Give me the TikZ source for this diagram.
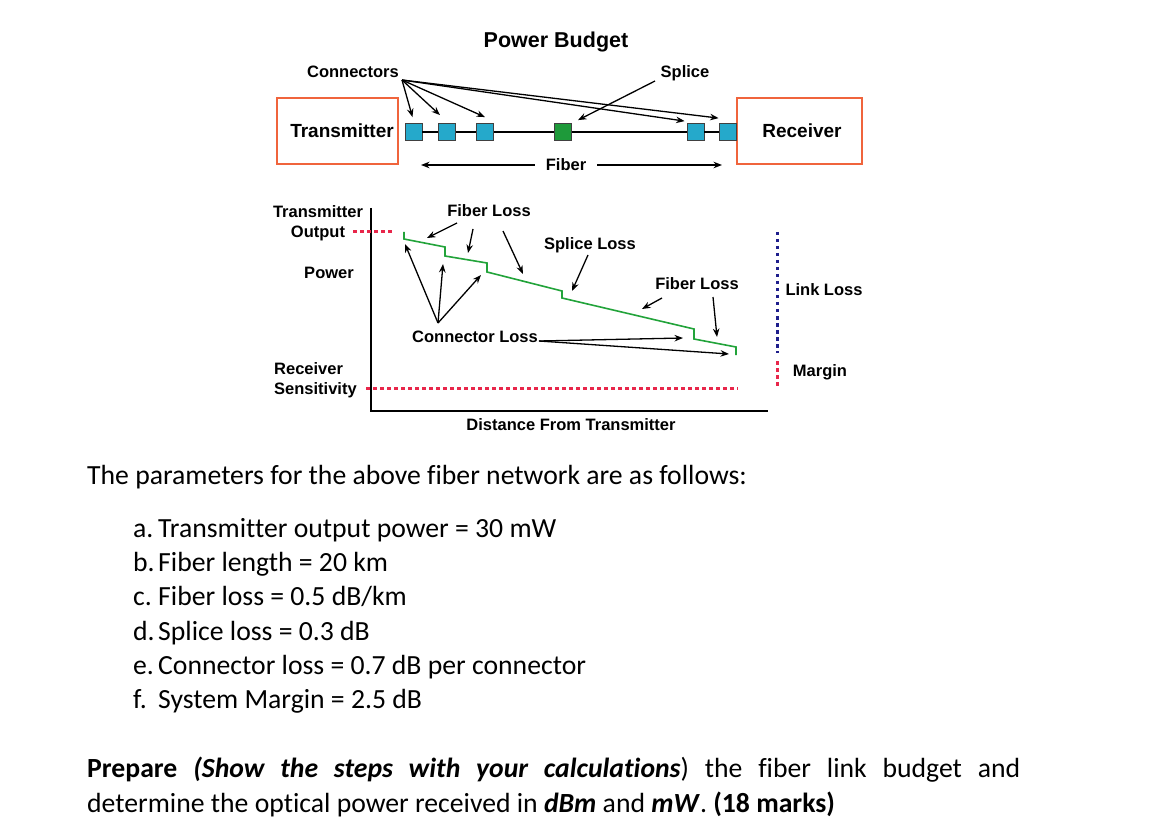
\documentclass[tikz,border=0pt]{standalone}
\usepackage{fontspec}
\setmainfont{Carlito}[Ligatures=NoCommon]
\newfontfamily\dfont{Liberation Sans}
\usetikzlibrary{arrows.meta}
\definecolor{boxorange}{HTML}{F0643C}
\definecolor{cblue}{HTML}{25A9CB}
\definecolor{sgreen}{HTML}{1E9A3A}
\definecolor{lgreen}{HTML}{22A33A}
\definecolor{dred}{HTML}{E8264A}
\definecolor{dnavy}{HTML}{1E1E8C}
\begin{document}
\begin{tikzpicture}[x=1pt,y=-1pt,
  lbl/.style={font=\dfont\bfseries\fontsize{16.5}{20}\selectfont, inner sep=0},
  big/.style={font=\dfont\bfseries\fontsize{19}{22}\selectfont, inner sep=0},
  arr/.style={-{Stealth[length=8.5pt,width=6.5pt]}, line width=1.3pt},
  conn/.style={draw=black!75, line width=0.8pt, fill=cblue, minimum size=17pt, inner sep=0},
  splicebox/.style={draw=black!75, line width=0.8pt, fill=sgreen, minimum size=17pt, inner sep=0},
  unitbox/.style={draw=boxorange, line width=1.5pt, minimum width=121pt, minimum height=66pt, inner sep=0},
  reddots/.style={dred, line width=3pt, dash pattern=on 3.5pt off 3.5pt},
  bluedots/.style={dnavy, line width=3pt, dash pattern=on 3.5pt off 3.5pt},
  body/.style={font=\fontsize{27.7}{34}\selectfont, inner sep=0, anchor=base west}]
\useasboundingbox (0,0) rectangle (1152,829);

% ---------- top schematic ----------
\node[font=\dfont\bfseries\fontsize{21.5}{25}\selectfont, inner sep=0] (title) at (556,42) {Power Budget};
\node[unitbox] (tx) at (337.5,131) {};
\node[big] (txl) at (342,131) {Transmitter};
\node[unitbox, minimum width=125pt] (rx) at (799.5,131) {};
\node[big] (rxl) at (802,131) {Receiver};

\node[conn] (c1) at (413.5,132) {};
\node[conn] (c2) at (447,132) {};
\node[conn] (c3) at (485,132) {};
\node[splicebox] (sp) at (563,132) {};
\node[conn] (c4) at (695.5,132) {};
\node[conn] (c5) at (727.5,132) {};
\draw[line width=1.3pt] (c1) -- (c2) -- (c3) -- (sp) -- (c4) -- (c5);

\node[lbl] (connl) at (353,72) {Connectors};
\coordinate (co) at (402,80);
\draw[arr] (co) -- ([shift={(-1pt,6pt)}]c1.north);
\draw[arr] (co) -- ([shift={(-7pt,8pt)}]c2.north);
\draw[arr] (co) -- ([shift={(0pt,6pt)}]c3.north);
\draw[arr] (co) -- ([shift={(-2pt,2pt)}]c4.north west);
\draw[arr] (co) -- ([shift={(0pt,5pt)}]c5.north west);

\node[lbl] (splicel) at (685,73) {Splice};
\coordinate (so) at (655,81);
\draw[arr] (so) -- ([shift={(15pt,3pt)}]sp.north);

\node[lbl] (fiberl) at (566,165) {Fiber};
\coordinate (fl) at (421,165);
\coordinate (fr) at (722,165);
\draw[arr] ([xshift=-11pt]fiberl.west) -- (fl);
\draw[arr] ([xshift=11pt]fiberl.east) -- (fr);

% ---------- graph ----------
\coordinate (ytop) at (371,208);
\coordinate (orig) at (371,411);
\coordinate (xend) at (768,411);
\draw[line width=1.8pt] (ytop) -- (orig) -- (xend);

\node[lbl, align=center] (txo) at (318,223) {Transmitter\\Output};
\node[lbl] (pw) at (329,273) {Power};
\node[lbl, align=left, anchor=west] (rs) at (274,380.5) {Receiver\\Sensitivity};
\node[lbl] (dist) at (571,425) {Distance From Transmitter};

\coordinate (to1) at (353,232);
\coordinate (to2) at (395,232);
\draw[reddots] (to1) -- (to2);
\coordinate (rs1) at (366,388);
\coordinate (rs2) at (738,388);
\draw[reddots] (rs1) -- (rs2);

\draw[lgreen, line width=1.6pt] (404,232) -- (404,239) -- (445,247) -- (445,256) -- (487,263) -- (487,272)
  -- (562,291) -- (562,298) -- (694,329) -- (694,339) -- (736,347) -- (736,355);

\node[lbl] (fl1) at (489,211) {Fiber Loss};
\draw[arr] (457,223) -- (427,238);
\draw[arr] (473,229) -- (468,253);
\draw[arr] (503,231) -- (523,274);

\node[lbl] (spl) at (590,245) {Splice Loss};
\draw[arr] (588,255) -- (572,291);

\node[lbl] (fl2) at (697,284) {Fiber Loss};
\draw[arr] (662,298) -- (642,309);
\draw[arr] (713,297) -- (717,337);

\node[lbl] (cl) at (475,337) {Connector Loss};
\coordinate (clo) at (438,323);
\draw[arr] (clo) -- (405,244);
\draw[arr] (clo) -- (443,264);
\draw[arr] (clo) -- (481,275);
\coordinate (clr) at (539,341);
\draw[arr] (clr) -- (683,338);
\draw[arr] (clr) -- (729,354);

\coordinate (ll1) at (777,232);
\coordinate (ll2) at (777,353);
\draw[bluedots] (ll1) -- (ll2);
\coordinate (mg1) at (777,361);
\coordinate (mg2) at (777,386);
\draw[reddots] (mg1) -- (mg2);
\node[lbl] (linkl) at (824,290) {Link Loss};
\node[lbl] (marg) at (820,372) {Margin};

% ---------- text ----------
\node[body] (intro) at (87,484) {The parameters for the above fiber network are as follows:};
\node[body] (la) at (133,537) {a.};
\node[body] (ta) at (158,537) {Transmitter output power = 30 mW};
\node[body] (lb) at (133,571.3) {b.};
\node[body] (tb) at (158,571.3) {Fiber length = 20 km};
\node[body] (lc) at (133,605.6) {c.};
\node[body] (tc) at (158,605.6) {Fiber loss = 0.5 dB/km};
\node[body] (ld) at (133,640) {d.};
\node[body] (td) at (158,640) {Splice loss = 0.3 dB};
\node[body] (le) at (133,674.2) {e.};
\node[body] (te) at (158,674.2) {Connector loss = 0.7 dB per connector};
\node[body] (lf) at (133,708.5) {f.};
\node[body] (tf) at (158,708.5) {System Margin = 2.5 dB};

\node[body] (q1) at (87,777) {\makebox[933pt][s]{\textbf{Prepare} \textbf{\textit{(Show the steps with your calculations}}) the fiber link budget and}};
\node[body] (q2) at (87,812) {determine the optical power received in \textbf{\textit{dBm}} and \textbf{\textit{mW}}. \textbf{(18 marks)}};
\end{tikzpicture}
\end{document}
